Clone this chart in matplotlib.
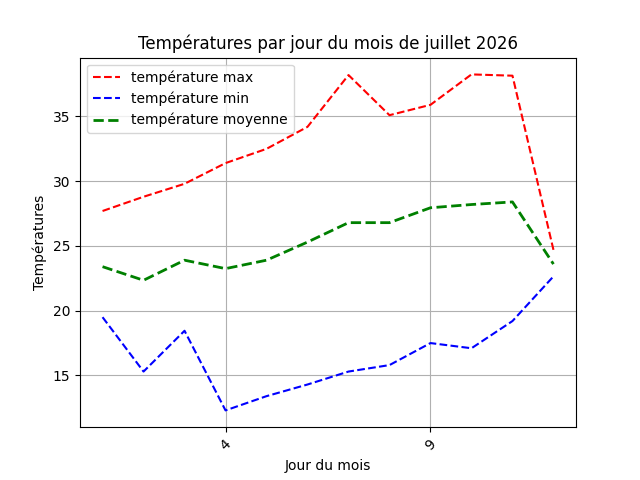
import matplotlib
matplotlib.use("Agg")
import matplotlib.pyplot as plt

jours = list(range(1, 13))
temp_max = [27.7, 28.8, 29.8, 31.4, 32.5, 34.2, 38.2, 35.1, 35.9, 38.25, 38.15, 24.7]
temp_min = [19.5, 15.3, 18.45, 12.3, 13.4, 14.3, 15.3, 15.8, 17.5, 17.1, 19.2, 22.65]
temp_moy = [23.4, 22.35, 23.9, 23.25, 23.9, 25.3, 26.8, 26.8, 27.95, 28.2, 28.4, 23.6]
ticks_x = [4, 9]

fig, ax = plt.subplots(figsize=(6.4, 4.8), dpi=100)

ax.plot(jours, temp_max, 'r--', label=u"température max")
ax.plot(jours, temp_min, 'b--', label=u"température min")
ax.plot(jours, temp_moy, 'g--', linewidth=2, label=u"température moyenne")

ax.set_xticks(ticks_x)
plt.setp(ax.get_xticklabels(), rotation=45)

ax.set_title(u"Températures par jour du mois de juillet 2026")
ax.set_xlabel(u"Jour du mois")
ax.set_ylabel(u"Températures")
ax.grid()
ax.legend(loc="upper left")

plt.savefig("out.png")
